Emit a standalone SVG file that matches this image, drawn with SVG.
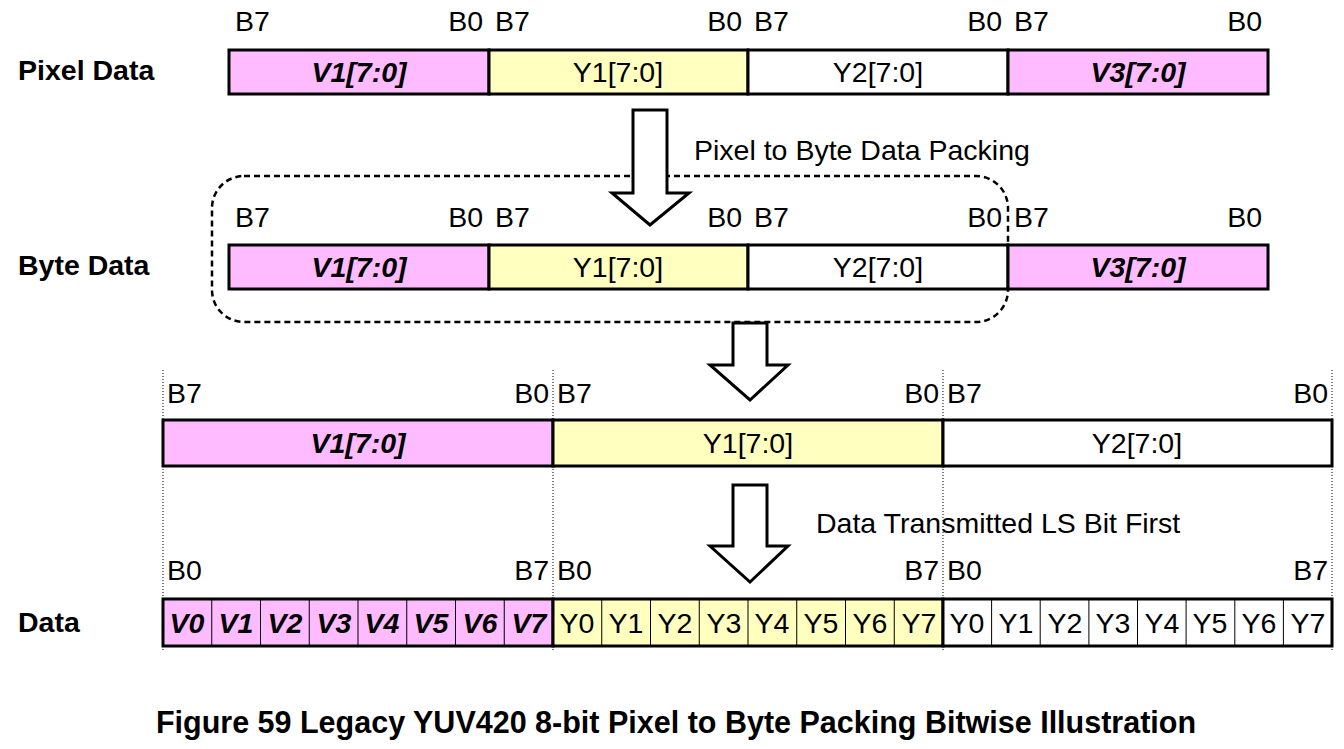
<svg xmlns="http://www.w3.org/2000/svg" width="1344" height="749" viewBox="0 0 1344 749">
<style>
text{font-family:"Liberation Sans",Arial,sans-serif;font-size:28.5px;fill:#000}
.b{font-weight:bold}
.bi{font-weight:bold;font-style:italic}
.m{text-anchor:middle}
.e{text-anchor:end}
.p{fill:#FFBBFF;stroke:#000;stroke-width:3}
.y{fill:#FFFFC0;stroke:#000;stroke-width:3}
.w{fill:#fff;stroke:#000;stroke-width:3}
.c{stroke:#000;stroke-width:1;fill:none}
.arr{fill:#fff;stroke:#000;stroke-width:3;stroke-linejoin:miter}
.dot{stroke:#000;stroke-width:1;stroke-dasharray:1 2}
</style>
<rect width="1344" height="749" fill="#fff"/>
<g id="pixel-data">
<text x="18" y="80" class="b">Pixel Data</text>
<rect x="229" y="50" width="260" height="44" class="p"/>
<rect x="489" y="50" width="259" height="44" class="y"/>
<rect x="748" y="50" width="260" height="44" class="w"/>
<rect x="1008" y="50" width="260" height="44" class="p"/>
<text x="359" y="82" class="bi m">V1[7:0]</text>
<text x="618" y="82" class="m">Y1[7:0]</text>
<text x="878" y="82" class="m">Y2[7:0]</text>
<text x="1138" y="82" class="bi m">V3[7:0]</text>
<text x="235" y="31">B7</text><text x="483" y="31" class="e">B0</text>
<text x="495" y="31">B7</text><text x="742" y="31" class="e">B0</text>
<text x="754" y="31">B7</text><text x="1002" y="31" class="e">B0</text>
<text x="1014" y="31">B7</text><text x="1262" y="31" class="e">B0</text>
</g>
<g id="byte-data">
<rect x="212" y="176" width="796" height="146" rx="32" fill="none" stroke="#000" stroke-width="2.5" stroke-dasharray="6 4"/>
<text x="18" y="275" class="b">Byte Data</text>
<rect x="229" y="245" width="260" height="44" class="p"/>
<rect x="489" y="245" width="259" height="44" class="y"/>
<rect x="748" y="245" width="260" height="44" class="w"/>
<rect x="1008" y="245" width="260" height="44" class="p"/>
<text x="359" y="277" class="bi m">V1[7:0]</text>
<text x="618" y="277" class="m">Y1[7:0]</text>
<text x="878" y="277" class="m">Y2[7:0]</text>
<text x="1138" y="277" class="bi m">V3[7:0]</text>
<text x="235" y="227">B7</text><text x="483" y="227" class="e">B0</text>
<text x="495" y="227">B7</text><text x="742" y="227" class="e">B0</text>
<text x="754" y="227">B7</text><text x="1002" y="227" class="e">B0</text>
<text x="1014" y="227">B7</text><text x="1262" y="227" class="e">B0</text>
</g>
<g id="guides">
<line x1="163" y1="370" x2="163" y2="650" class="dot"/>
<line x1="553" y1="370" x2="553" y2="650" class="dot"/>
<line x1="943" y1="370" x2="943" y2="650" class="dot"/>
<line x1="1332" y1="370" x2="1332" y2="650" class="dot"/>
</g>
<g id="bytes">
<rect x="163" y="420" width="390" height="46" class="p"/>
<rect x="553" y="420" width="390" height="46" class="y"/>
<rect x="943" y="420" width="389" height="46" class="w"/>
<text x="358" y="453" class="bi m">V1[7:0]</text>
<text x="748" y="453" class="m">Y1[7:0]</text>
<text x="1137" y="453" class="m">Y2[7:0]</text>
<text x="167" y="403">B7</text><text x="549" y="403" class="e">B0</text>
<text x="557" y="403">B7</text><text x="939" y="403" class="e">B0</text>
<text x="947" y="403">B7</text><text x="1328" y="403" class="e">B0</text>
</g>
<g id="bits">
<text x="18" y="632" class="b">Data</text>
<rect x="163" y="599" width="390" height="47" class="p"/>
<rect x="553" y="599" width="390" height="47" class="y"/>
<rect x="943" y="599" width="389" height="47" class="w"/>
<g class="c">
<path d="M211.75 599V646M260.5 599V646M309.25 599V646M358 599V646M406.75 599V646M455.5 599V646M504.25 599V646"/>
<path d="M601.75 599V646M650.5 599V646M699.25 599V646M748 599V646M796.75 599V646M845.5 599V646M894.25 599V646"/>
<path d="M991.6 599V646M1040.2 599V646M1088.9 599V646M1137.5 599V646M1186.1 599V646M1234.8 599V646M1283.4 599V646"/>
</g>
<g class="bi m">
<text x="187" y="633">V0</text><text x="236" y="633">V1</text><text x="285" y="633">V2</text><text x="334" y="633">V3</text><text x="382" y="633">V4</text><text x="431" y="633">V5</text><text x="480" y="633">V6</text><text x="529" y="633">V7</text>
</g>
<g class="m">
<text x="577" y="633">Y0</text><text x="626" y="633">Y1</text><text x="675" y="633">Y2</text><text x="724" y="633">Y3</text><text x="772" y="633">Y4</text><text x="821" y="633">Y5</text><text x="870" y="633">Y6</text><text x="919" y="633">Y7</text>
<text x="967" y="633">Y0</text><text x="1016" y="633">Y1</text><text x="1065" y="633">Y2</text><text x="1113" y="633">Y3</text><text x="1162" y="633">Y4</text><text x="1210" y="633">Y5</text><text x="1259" y="633">Y6</text><text x="1308" y="633">Y7</text>
</g>
<text x="167" y="580">B0</text><text x="549" y="580" class="e">B7</text>
<text x="557" y="580">B0</text><text x="939" y="580" class="e">B7</text>
<text x="947" y="580">B0</text><text x="1328" y="580" class="e">B7</text>
</g>
<g id="connectors">
<path d="M633 110H667V193H689L650 225L612 193H633Z" class="arr"/>
<path d="M733 323H767V365H788L750 400L710 365H733Z" class="arr"/>
<path d="M733 485H767V546H788L750 582L710 546H733Z" class="arr"/>
<text x="694" y="160">Pixel to Byte Data Packing</text>
<text x="816" y="533">Data Transmitted LS Bit First</text>
</g>
<text x="676" y="733" class="b m" style="font-size:30.5px">Figure 59 Legacy YUV420 8-bit Pixel to Byte Packing Bitwise Illustration</text>
</svg>
